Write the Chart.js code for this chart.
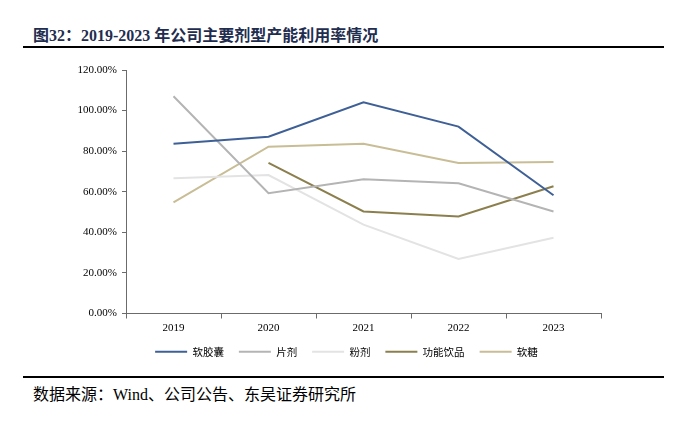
<!DOCTYPE html>
<html><head><meta charset="utf-8">
<script src="https://cdn.jsdelivr.net/npm/chart.js@4.4.1/dist/chart.umd.min.js"></script>
<style>
html,body{margin:0;padding:0;background:#fff;}
body{width:678px;height:421px;position:relative;overflow:hidden;}
#title{position:absolute;left:33px;top:22px;font-family:"Liberation Serif","Noto Sans CJK SC",serif;font-weight:bold;font-size:16px;color:#1f2d4f;white-space:nowrap;}
#l1{position:absolute;left:23px;top:46px;width:641px;height:2px;background:#000;}
#l2{position:absolute;left:23px;top:376px;width:641px;height:2px;background:#000;}
#src{position:absolute;left:33px;top:381px;font-family:"Liberation Serif","Noto Sans CJK SC",serif;font-size:16px;color:#000;white-space:nowrap;}
#wrap{position:absolute;left:0;top:55px;width:678px;height:320px;}
</style></head>
<body>
<div id="title">图32：2019-2023 年公司主要剂型产能利用率情况</div>
<div id="l1"></div>
<div id="wrap"><canvas id="c"></canvas></div>
<div id="l2"></div>
<div id="src">数据来源：Wind、公司公告、东吴证券研究所</div>
<script>
const years = ['2019','2020','2021','2022','2023'];
const softCapsule = [83.7, 87.1, 104.1, 92.1, 58.3];
const tablet = [107.1, 59.3, 66.2, 64.2, 50.3];
const powder = [66.7, 68.2, 43.8, 26.9, 37.3];
const funcDrink = [null, 74.2, 50.3, 47.8, 62.7];
const gummy = [54.8, 82.2, 83.7, 74.2, 74.7];
const seriesNames = ['软胶囊','片剂','粉剂','功能饮品','软糖'];
const colors = ['#3e6096','#b4b4b4','#e3e3e3','#8c7f4e','#c9bd96'];
const values = [softCapsule, tablet, powder, funcDrink, gummy];

const axisColor = '#6b6b6b';
const shiftLegend = {
  id: 'shiftLegend',
  afterLayout(chart){
    const lg = chart.legend;
    if (lg) { lg.left += 46; lg.right += 46; }
  }
};
new Chart(document.getElementById('c'), {
  type: 'line',
  data: {
    labels: years,
    datasets: values.map((v,i)=>({
      label: seriesNames[i], data: v, borderColor: colors[i], backgroundColor: colors[i],
      borderWidth: 2, pointRadius: 0, tension: 0, spanGaps: false
    }))
  },
  plugins: [shiftLegend],
  options: {
    responsive: true, maintainAspectRatio: false, animation: false,
    layout: {padding: {left: 0, right: 77, top: 15, bottom: 8}},
    plugins: {
      tooltip: {enabled: false},
      legend: {
        position: 'bottom',
        labels: {
          usePointStyle: true, pointStyle: 'line', pointStyleWidth: 32,
          padding: 15, color: '#333',
          font: {family: '"Noto Sans CJK SC"', size: 10.5},
          generateLabels(chart){
            return chart.data.datasets.map((d,i)=>({
              text: d.label, strokeStyle: d.borderColor, fillStyle: d.borderColor,
              lineWidth: 2, pointStyle: 'line', datasetIndex: i, hidden: false
            }));
          }
        }
      }
    },
    scales: {
      x: {
        offset: true,
        grid: {offset: true, drawOnChartArea: false, drawTicks: true, tickLength: 5, color: axisColor},
        border: {color: axisColor, width: 1},
        ticks: {color: '#000', font: {family: '"Liberation Serif"', size: 11}, padding: 3, maxRotation: 0},
        afterFit(s){ s.height = 18; }
      },
      y: {
        min: 0, max: 120,
        grid: {drawOnChartArea: false, tickLength: 4, color: axisColor},
        border: {color: axisColor, width: 1},
        ticks: {stepSize: 20, color: '#000', font: {family: '"Liberation Serif"', size: 11}, padding: 5,
          callback: v => v.toFixed(2) + '%'},
        afterFit(s){ s.width = 126; }
      }
    }
  }
});
</script>
</body></html>
